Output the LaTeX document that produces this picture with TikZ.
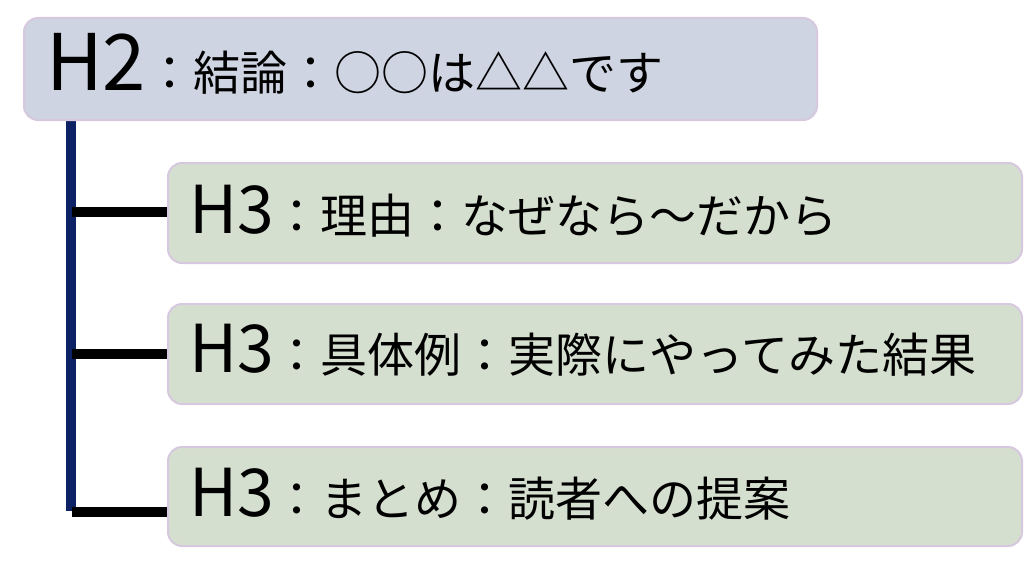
\documentclass[tikz,border=0pt]{standalone}
\usepackage{fontspec}
\setmainfont{Noto Sans CJK JP}
\definecolor{hbluefill}{RGB}{206,212,226}
\definecolor{hgreenfill}{RGB}{213,223,207}
\definecolor{hborder}{RGB}{214,200,222}
\definecolor{navyline}{RGB}{12,34,100}
\tikzset{
  hbox/.style={draw=hborder, line width=2pt, rounded corners=14pt, anchor=north west,
    align=left, inner ysep=0pt, text depth=0pt, font=\fontsize{47}{50}\selectfont},
  h2box/.style={hbox, fill=hbluefill, inner xsep=22pt, text width=749pt, minimum height=102pt},
  h3box/.style={hbox, fill=hgreenfill, inner xsep=21pt, text width=812pt, minimum height=100pt},
  vline/.style={draw=navyline, line width=10pt},
  hline/.style={draw=black, line width=10pt}
}
\newcommand{\bigH}[1]{{\fontsize{78}{80}\selectfont #1}}
\newcommand{\midH}[1]{{\fontsize{66}{70}\selectfont #1}}
\begin{document}
\begin{tikzpicture}[x=1pt,y=-1pt]
\useasboundingbox (0,0) rectangle (1024,575);
\coordinate (vtop) at (71,119);
\coordinate (vbot) at (71,511);
\coordinate (ja) at (72,211.5);
\coordinate (jb) at (72,354);
\coordinate (jc) at (72,511.5);
\draw[vline] (vtop) -- (vbot);
\node[h2box, text height=44pt] (h2) at (23,17) {\bigH{H2}：結論：○○は△△です};
\node[h3box, text height=40pt] (a) at (167,162) {\midH{H3}：理由：なぜなら～だから};
\node[h3box, text height=36pt] (b) at (167,303) {\midH{H3}：具体例：実際にやってみた結果};
\node[h3box, text height=39pt, minimum height=99pt] (c) at (167,446) {\midH{H3}：まとめ：読者への提案};
\draw[hline] (ja) -- (ja -| a.west);
\draw[hline] (jb) -- (jb -| b.west);
\draw[hline] (jc) -- (jc -| c.west);
\end{tikzpicture}
\end{document}
